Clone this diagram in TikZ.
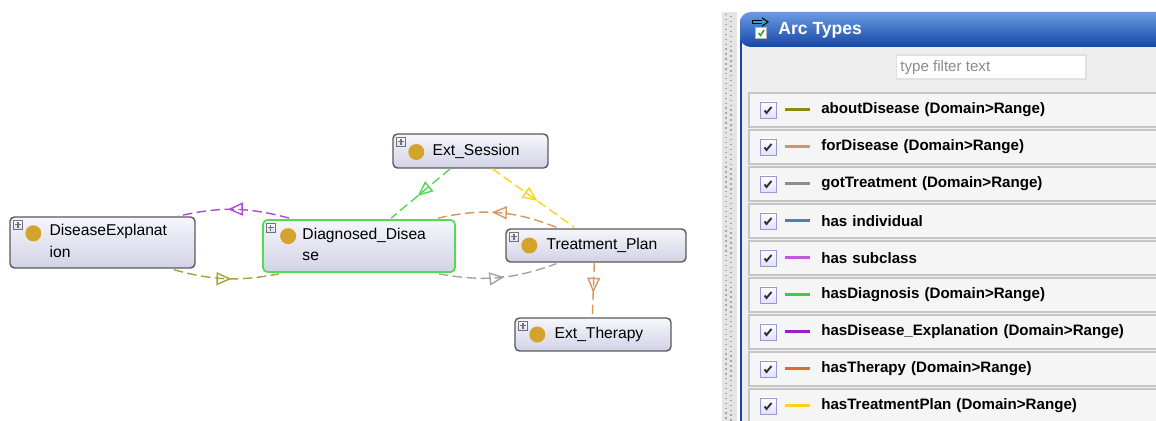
\documentclass[tikz,border=0pt]{standalone}
\usepackage{fontspec}
\setmainfont{Liberation Sans}
\usetikzlibrary{arrows.meta,calc,decorations.markings}

\definecolor{boxtop}{HTML}{F6F6FC}
\definecolor{boxbot}{HTML}{D2D2E6}
\definecolor{gold}{HTML}{D4A32C}
\definecolor{selgreen}{HTML}{4FDD4F}
\definecolor{cOlive}{HTML}{8C8A14}
\definecolor{cTan}{HTML}{D9955E}
\definecolor{cGray}{HTML}{8C8C8C}
\definecolor{cBlue}{HTML}{4A80B8}
\definecolor{cLilac}{HTML}{C05AD8}
\definecolor{cGreen}{HTML}{3BCF3B}
\definecolor{cPurple}{HTML}{9A1CD0}
\definecolor{cOrange}{HTML}{DD6A2A}
\definecolor{cYellow}{HTML}{FFD21A}
\definecolor{panel}{HTML}{EEEEEE}
\definecolor{rowline}{HTML}{C6C6C6}
\definecolor{bartop}{HTML}{6A9BE2}
\definecolor{barbot}{HTML}{1746A8}

\begin{document}
\begin{tikzpicture}[x=0.02cm,y=-0.02cm]

  \tikzstyle{class}=[draw=black!65,line width=0.8pt,rounded corners=2.5pt,top color=boxtop,bottom color=boxbot,inner sep=0pt]
  \tikzstyle{plus}=[draw=black!55,line width=0.4pt,top color=white,bottom color=blue!15,minimum size=0.18cm,inner sep=0pt,
    path picture={\draw[line width=0.8pt,shift={(path picture bounding box.center)}] (-3,0) -- (3,0) (0,-3) -- (0,3);}]
  \tikzstyle{dot}=[circle,fill=gold,minimum size=0.32cm,inner sep=0pt]
  \tikzstyle{lbl}=[inner sep=0pt,align=left,font=\fontsize{8.9}{12}\selectfont]
  \tikzstyle{arc}=[dash pattern=on 0.19cm off 0.09cm,line width=0.8pt,postaction={decorate},
    decoration={markings,mark=at position 0.55 with {\arrow{Triangle[open,length=0.3cm,width=0.26cm,line width=0.8pt]}}}]
  \tikzstyle{row}=[draw=rowline,line width=0.9pt,fill=panel!60!white,minimum width=9.4cm,minimum height=0.68cm,
    inner xsep=1.44cm,text width=6.5cm,align=left,anchor=west,font=\fontsize{8.6}{10}\selectfont\bfseries]
  \tikzstyle{chk}=[draw=black!45!blue!40,line width=0.5pt,top color=white,bottom color=blue!12,minimum size=0.32cm,inner sep=0pt,
    path picture={\draw[line width=1.1pt,black!80,shift={(path picture bounding box.center)}] (-3.5,0.5) -- (-1.5,3) -- (3.5,-3);}]
  \tikzstyle{swatch}=[minimum width=0.5cm,minimum height=0.06cm,inner sep=0pt]

  \useasboundingbox (0,0) rectangle (1156,421);
  \clip (0,0) rectangle (1156,421);

  % classes
  \node[class,minimum width=3.7cm,minimum height=1.02cm] (de) at (102.5,242.5) {};
  \node[plus] (de-p) at ($(de.north west)+(8.5,8.5)$) {};
  \node[dot] (de-d) at ($(de.north west)+(24,17)$) {};
  \node[lbl,anchor=north west] (de-t) at ($(de.north west)+(40,8)$) {DiseaseExplanat\\ion};

  \node[class,draw=selgreen,line width=1pt,minimum width=3.84cm,minimum height=1.04cm] (dd) at (359,246) {};
  \node[plus] (dd-p) at ($(dd.north west)+(8.5,8.5)$) {};
  \node[dot] (dd-d) at ($(dd.north west)+(26,17)$) {};
  \node[lbl,anchor=north west] (dd-t) at ($(dd.north west)+(40,9)$) {Diagnosed\_Disea\\se};

  \node[class,minimum width=3.1cm,minimum height=0.68cm] (es) at (470.5,151) {};
  \node[plus] (es-p) at ($(es.north west)+(8.5,8.5)$) {};
  \node[dot] (es-d) at ($(es.west)+(24,1)$) {};
  \node[lbl,anchor=west] (es-t) at ($(es.west)+(40,0)$) {Ext\_Session};

  \node[class,minimum width=3.6cm,minimum height=0.66cm] (tp) at (596,245.5) {};
  \node[plus] (tp-p) at ($(tp.north west)+(8.5,8.5)$) {};
  \node[dot] (tp-d) at ($(tp.west)+(24,0)$) {};
  \node[lbl,anchor=west] (tp-t) at ($(tp.west)+(41,0)$) {Treatment\_Plan};

  \node[class,minimum width=3.12cm,minimum height=0.66cm] (et) at (593,334.5) {};
  \node[plus] (et-p) at ($(et.north west)+(8.5,8.5)$) {};
  \node[dot] (et-d) at ($(et.west)+(23,0)$) {};
  \node[lbl,anchor=west] (et-t) at ($(et.west)+(40,0)$) {Ext\_Therapy};

  % arcs
  \draw[arc,cPurple!80] ($(dd.north west)+(27,-1)$) to[bend right=14] ($(de.north east)+(-18,0)$);
  \draw[arc,cOlive!80] ($(de.south east)+(-22,1)$) to[bend right=13] ($(dd.south west)+(17,1)$);
  \draw[arc,cGreen!85] ($(es.south west)+(58,0)$) -- ($(dd.north west)+(129,-1)$);
  \draw[arc,cYellow] ($(es.south west)+(100,0)$) -- ($(tp.north west)+(69,-1)$);
  \draw[arc,cTan] ($(tp.north west)+(51,-1)$) to[bend right=17] ($(dd.north east)+(-18,-1)$);
  \draw[arc,cGray!80] ($(dd.south east)+(-17,1)$) to[bend right=15] ($(tp.south west)+(51,1)$);
  \draw[arc,cTan] ($(tp.south west)+(89,0)$) -- ($(et.north west)+(78,0)$);

  % arc types panel
  \fill[black!10] (722,12) rectangle (737,421);
  \draw[black!35,dotted,line width=0.8pt] (726,14) -- (726,421) (731,16) -- (731,421);
  \fill[panel] (741,47) rectangle (1160,425);
  \draw[barbot,line width=0.9pt] (741,40) -- (741,425);
  \shade[top color=bartop,bottom color=barbot,rounded corners=6pt] (740,12) rectangle (1170,47);
  \node[draw=black!30,fill=white,line width=0.4pt,minimum size=0.22cm,inner sep=0pt] (icon-b) at (761,33) {};
  \draw[cGreen!80!black,line width=0.9pt] ($(icon-b.center)+(-2.5,0)$) -- ($(icon-b.center)+(-0.5,2.5)$) -- ($(icon-b.center)+(3,-3)$);
  \coordinate (icon-a) at (752,22);
  \draw[-{Triangle[length=0.14cm,width=0.18cm]},black,line width=2.2pt] (icon-a) -- +(17,0);
  \draw[-{Triangle[length=0.1cm,width=0.12cm]},cBlue!70!cyan,line width=1pt] ($(icon-a)+(1,0)$) -- +(14,0);
  \node[anchor=west,text=white,inner sep=0pt,font=\fontsize{10}{12}\selectfont\bfseries] (title) at (778,30) {Arc Types};
  \node[draw=black!12,fill=white,line width=0.6pt,minimum width=3.8cm,minimum height=0.48cm,inner sep=0pt] (filter) at (991,67) {};
  \node[anchor=west,text=black!45,inner sep=0pt,font=\fontsize{8.6}{10}\selectfont] (filter-t) at (900,68) {type filter text};

  \node[row] (r1) at (748,110) {aboutDisease (Domain>Range)};
  \node[chk] (c1) at (768,110) {};
  \node[swatch,fill=cOlive] (s1) at (797.5,110) {};
  \node[row] (r2) at (748,147) {forDisease (Domain>Range)};
  \node[chk] (c2) at (768,147) {};
  \node[swatch,fill=cTan] (s2) at (797.5,147) {};
  \node[row] (r3) at (748,184) {gotTreatment (Domain>Range)};
  \node[chk] (c3) at (768,184) {};
  \node[swatch,fill=cGray] (s3) at (797.5,184) {};
  \node[row] (r4) at (748,221) {has individual};
  \node[chk] (c4) at (768,221) {};
  \node[swatch,fill=cBlue] (s4) at (797.5,221) {};
  \node[row] (r5) at (748,258) {has subclass};
  \node[chk] (c5) at (768,258) {};
  \node[swatch,fill=cLilac] (s5) at (797.5,258) {};
  \node[row] (r6) at (748,295) {hasDiagnosis (Domain>Range)};
  \node[chk] (c6) at (768,295) {};
  \node[swatch,fill=cGreen] (s6) at (797.5,295) {};
  \node[row] (r7) at (748,332) {hasDisease\_Explanation (Domain>Range)};
  \node[chk] (c7) at (768,332) {};
  \node[swatch,fill=cPurple] (s7) at (797.5,332) {};
  \node[row] (r8) at (748,369) {hasTherapy (Domain>Range)};
  \node[chk] (c8) at (768,369) {};
  \node[swatch,fill=cOrange] (s8) at (797.5,369) {};
  \node[row] (r9) at (748,406) {hasTreatmentPlan (Domain>Range)};
  \node[chk] (c9) at (768,406) {};
  \node[swatch,fill=cYellow] (s9) at (797.5,406) {};

\end{tikzpicture}
\end{document}
